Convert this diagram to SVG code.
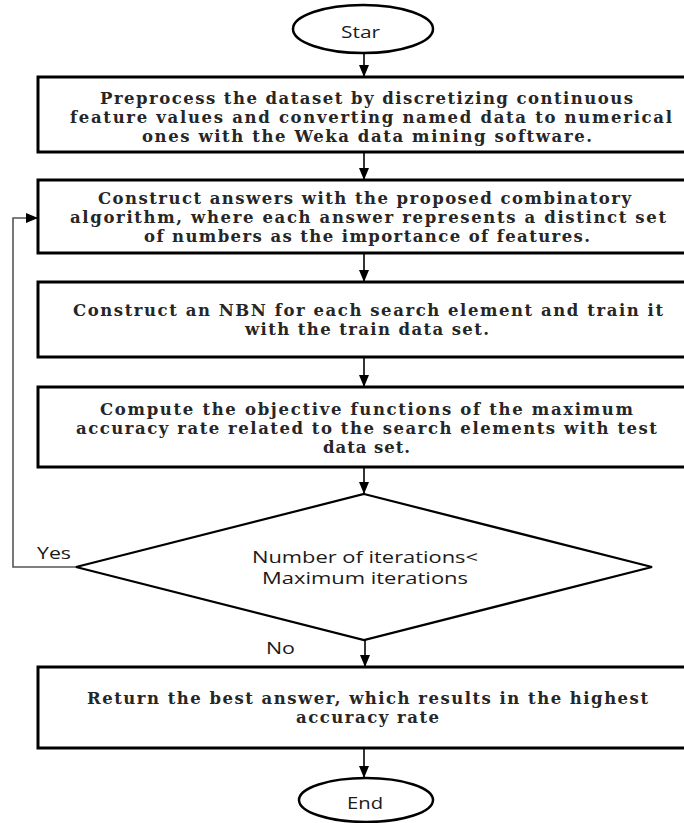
<svg xmlns="http://www.w3.org/2000/svg" width="684" height="823" viewBox="0 0 684 823">
<style>
  .box { fill: #fff; stroke: #000; stroke-width: 3; }
  .term { fill: #fff; stroke: #000; stroke-width: 2.5; }
  .dia { fill: #fff; stroke: #000; stroke-width: 2.2; }
  .serif { font-family: "DejaVu Serif", "Liberation Serif", serif; font-size: 16.5px; font-weight: bold; fill: #262626; }
  .sans { font-family: "Open Sans", "Liberation Sans", sans-serif; font-size: 16px; fill: #1a1a1a; }
  .conn { fill: none; stroke: #000; stroke-width: 1.6; }
  .loop { fill: none; stroke: #555; stroke-width: 1.6; }
</style>
<defs>
  <marker id="ah" viewBox="0 0 12 10" refX="12" refY="5" markerWidth="12" markerHeight="10" markerUnits="userSpaceOnUse" orient="auto">
    <path d="M0,0 L12,5 L0,10 Z" fill="#000"/>
  </marker>
</defs>
<rect width="684" height="823" fill="#fff"/>

<g id="connectors">
  <line class="conn" x1="364" y1="53" x2="364" y2="77" marker-end="url(#ah)"/>
  <line class="conn" x1="364" y1="152" x2="364" y2="180" marker-end="url(#ah)"/>
  <line class="conn" x1="364" y1="253" x2="364" y2="282" marker-end="url(#ah)"/>
  <line class="conn" x1="364" y1="357" x2="364" y2="387" marker-end="url(#ah)"/>
  <line class="conn" x1="364" y1="467" x2="364" y2="494" marker-end="url(#ah)"/>
  <line class="conn" x1="365" y1="640" x2="365" y2="667" marker-end="url(#ah)"/>
  <line class="conn" x1="364" y1="748" x2="364" y2="778" marker-end="url(#ah)"/>
  <polyline class="loop" points="76,567 13,567 13,218 38,218" marker-end="url(#ah)"/>
  <text class="sans" x="37" y="559" textLength="34" lengthAdjust="spacingAndGlyphs">Yes</text>
  <text class="sans" x="266" y="654" textLength="29" lengthAdjust="spacingAndGlyphs">No</text>
</g>

<g id="start">
  <ellipse class="term" cx="363" cy="29" rx="70" ry="24"/>
  <text class="sans" x="341" y="38" font-size="17" textLength="39" lengthAdjust="spacingAndGlyphs">Star</text>
</g>

<g id="preprocess">
  <rect class="box" x="38" y="77" width="660" height="75"/>
  <text class="serif" x="100" y="104" textLength="533">Preprocess the dataset by discretizing continuous</text>
  <text class="serif" x="70" y="123" textLength="602">feature values and converting named data to numerical</text>
  <text class="serif" x="142" y="142" textLength="450">ones with the Weka data mining software.</text>
</g>

<g id="construct-answers">
  <rect class="box" x="38" y="180" width="660" height="73"/>
  <text class="serif" x="98" y="204" textLength="533">Construct answers with the proposed combinatory</text>
  <text class="serif" x="70" y="223" textLength="596">algorithm, where each answer represents a distinct set</text>
  <text class="serif" x="144" y="242" textLength="446">of numbers as the importance of features.</text>
</g>

<g id="construct-nbn">
  <rect class="box" x="38" y="282" width="660" height="75"/>
  <text class="serif" x="73" y="316" textLength="590">Construct an NBN for each search element and train it</text>
  <text class="serif" x="245" y="335" textLength="244">with the train data set.</text>
</g>

<g id="compute">
  <rect class="box" x="38" y="387" width="660" height="80"/>
  <text class="serif" x="100" y="415" textLength="533">Compute the objective functions of the maximum</text>
  <text class="serif" x="76" y="434" textLength="581">accuracy rate related to the search elements with test</text>
  <text class="serif" x="323" y="453" textLength="87">data set.</text>
</g>

<g id="decision">
  <polygon class="dia" points="364,494 652,567 364,640 76,567"/>
  <text class="sans" x="252" y="563" textLength="226" lengthAdjust="spacingAndGlyphs">Number of iterations&lt;</text>
  <text class="sans" x="262" y="584" textLength="206" lengthAdjust="spacingAndGlyphs">Maximum iterations</text>
</g>

<g id="return">
  <rect class="box" x="38" y="667" width="660" height="81"/>
  <text class="serif" x="87" y="704" textLength="561">Return the best answer, which results in the highest</text>
  <text class="serif" x="296" y="723" textLength="143">accuracy rate</text>
</g>

<g id="end">
  <ellipse class="term" cx="366" cy="800" rx="67" ry="22"/>
  <text class="sans" x="347" y="809" font-size="17" textLength="36" lengthAdjust="spacingAndGlyphs">End</text>
</g>
</svg>
